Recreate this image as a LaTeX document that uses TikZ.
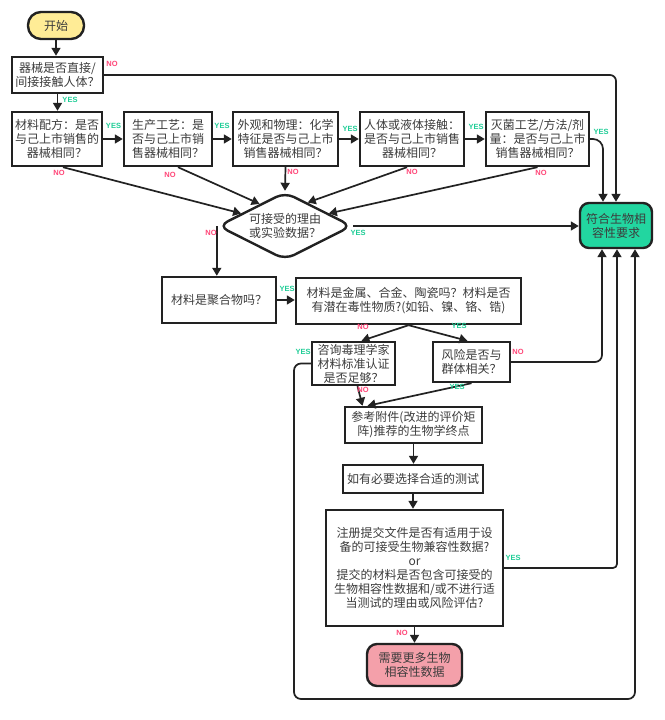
\documentclass[tikz,border=0pt]{standalone}
\usepackage{fontspec}
\setmainfont{Noto Sans CJK SC}
\newfontfamily\lblfont{Liberation Sans}
\usetikzlibrary{arrows.meta,shapes.geometric,calc}
\definecolor{startfill}{RGB}{255,236,150}
\definecolor{okfill}{RGB}{34,214,160}
\definecolor{pinkfill}{RGB}{244,160,170}
\definecolor{yesc}{RGB}{30,205,150}
\definecolor{noc}{RGB}{255,70,120}
\definecolor{boxc}{RGB}{34,34,34}
\definecolor{txt}{RGB}{60,60,60}
\tikzset{
  box/.style={draw=boxc, line width=2.4pt, fill=white, align=center, inner sep=0pt,
    font=\fontsize{12}{14}\selectfont, text=txt},
  arr/.style={-{Triangle[length=8pt,width=9pt]}, line width=1.7pt, draw=boxc},
  yeslbl/.style={text=yesc, font=\lblfont\bfseries\fontsize{7.5}{8}\selectfont, inner sep=0pt},
  nolbl/.style={text=noc, font=\lblfont\bfseries\fontsize{7.5}{8}\selectfont, inner sep=0pt},
}
\begin{document}
\begin{tikzpicture}[x=1pt,y=-1pt]
\fill[white] (0,0) rectangle (664,720);
\useasboundingbox (0,0) rectangle (664,720);

% nodes
\node[box, fill=startfill, rounded corners=13pt, minimum width=56pt, minimum height=27pt] (start) at (56,25.5) {开始};
\node[box, minimum width=91pt, minimum height=36pt] (b1) at (57.5,75) {器械是否直接/\\间接接触人体？};
\node[box, minimum width=90pt, minimum height=54pt] (b2) at (57,139) {材料配方：是否\\与己上市销售的\\器械相同？};
\node[box, minimum width=88pt, minimum height=54pt] (b3) at (168,139) {生产工艺：是\\否与己上市销\\售器械相同？};
\node[box, minimum width=105pt, minimum height=54pt] (b4) at (285.5,139) {外观和物理：化学\\特征是否与己上市\\销售器械相同？};
\node[box, minimum width=104pt, minimum height=54pt] (b5) at (412,139) {人体或液体接触：\\是否与己上市销售\\器械相同？};
\node[box, minimum width=103pt, minimum height=54pt] (b6) at (537.5,139) {灭菌工艺/方法/剂\\量：是否与己上市\\销售器械相同？};
\node[box, shape=diamond, aspect=2, rounded corners=10pt, minimum width=134pt, minimum height=68pt] (dia) at (285,226) {可接受的理由\\或实验数据？};
\node[box, fill=okfill, rounded corners=9pt, minimum width=72pt, minimum height=45pt] (ok) at (616,225.5) {符合生物相\\容性要求};
\node[box, minimum width=114pt, minimum height=46pt] (poly) at (219,300) {材料是聚合物吗？};
\node[box, minimum width=225pt, minimum height=46pt] (metal) at (408.5,301) {材料是金属、合金、陶瓷吗？材料是否\\有潜在毒性物质?(如铅、镍、铬、锆)};
\node[box, minimum width=83pt, minimum height=43pt] (tox) at (353.5,363.5) {咨询毒理学家\\材料标准认证\\是否足够？};
\node[box, minimum width=77pt, minimum height=40pt] (risk) at (471.5,362) {风险是否与\\群体相关？};
\node[box, minimum width=137pt, minimum height=36pt] (ref) at (413.5,425) {参考附件(改进的评价矩\\阵)推荐的生物学终点};
\node[box, minimum width=140pt, minimum height=28pt] (sel) at (413,479) {如有必要选择合适的测试};
\node[box, minimum width=177pt, minimum height=116pt] (big) at (414.5,568) {注册提交文件是否有适用于设\\备的可接受生物兼容性数据?\\or\\提交的材料是否包含可接受的\\生物相容性数据和/或不进行适\\当测试的理由或风险评估?};
\node[box, fill=pinkfill, rounded corners=10pt, minimum width=95pt, minimum height=42pt] (pink) at (414.5,665) {需要更多生物\\相容性数据};

\coordinate (lp1) at (294,699);

% connectors
\draw[arr] (start.south) -- (start.south |- b1.north);
\draw[arr] (b1.south) -- (b1.south |- b2.north);
\draw[arr, rounded corners=6pt] (b1.east) -| (ok.north);
\draw[arr] (b2.east) -- (b3.west);
\draw[arr] (b3.east) -- (b4.west);
\draw[arr] (b4.east) -- (b5.west);
\draw[arr] (b5.east) -- (b6.west);
\draw[arr, rounded corners=10pt] (b6.east) -| ([xshift=-13pt]ok.north);
\draw[arr] ([xshift=6pt]b2.south) -- (dia.164);
\draw[arr] ([xshift=10pt]b3.south) -- (dia.139);
\draw[arr] (b4.south) -- (dia.north);
\draw[arr] ([xshift=-5pt]b5.south) -- (dia.46);
\draw[arr] (b6.south) -- (dia.16);
\draw[arr] (dia.east) -- (dia.east -| ok.west);
\draw[arr] (dia.west) -- (dia.west |- poly.north);
\draw[arr] (poly.east) -- (poly.east -| metal.west);
\draw[arr] (metal.south) -- ([xshift=8pt]tox.north);
\draw[arr] (metal.south) -- ([xshift=-4pt]risk.north);
\draw[arr] ([xshift=4pt]tox.south) -- ([xshift=-51pt]ref.north);
\draw[arr] (risk.south) -- ([xshift=-46pt]ref.north);
\draw[arr, rounded corners=7pt] (tox.west) -| (lp1) -| ([xshift=19pt]ok.south);
\draw[arr, rounded corners=7pt] (risk.east) -| ([xshift=-14pt]ok.south);
\draw[arr] (ref.south) -- (ref.south |- sel.north);
\draw[arr] (sel.south) -- (sel.south |- big.north);
\draw[arr, rounded corners=4pt] (big.east) -| ([xshift=1pt]ok.south);
\draw[arr] (big.south) -- (pink.north);

% labels
\node[nolbl] (l1) at (112,64) {NO};
\node[yeslbl] (l2) at (70,100) {YES};
\node[yeslbl] (l3) at (113.5,126) {YES};
\node[yeslbl] (l4) at (222,126) {YES};
\node[yeslbl] (l5) at (350,129) {YES};
\node[yeslbl] (l6) at (476,127) {YES};
\node[yeslbl] (l7) at (601,132) {YES};
\node[nolbl] (l8) at (59,173) {NO};
\node[nolbl] (l9) at (170,175) {NO};
\node[nolbl] (l10) at (293,172) {NO};
\node[nolbl] (l11) at (412,172) {NO};
\node[nolbl] (l12) at (541,173) {NO};
\node[yeslbl] (l13) at (358,233) {YES};
\node[nolbl] (l14) at (211,233) {NO};
\node[yeslbl] (l15) at (287,289) {YES};
\node[nolbl] (l16) at (363,327) {NO};
\node[yeslbl] (l17) at (459,326) {YES};
\node[yeslbl] (l18) at (303,352) {YES};
\node[nolbl] (l19) at (518,352) {NO};
\node[nolbl] (l20) at (363,390) {NO};
\node[yeslbl] (l21) at (457,387) {YES};
\node[yeslbl] (l22) at (513,558) {YES};
\node[nolbl] (l23) at (402,633) {NO};
\end{tikzpicture}
\end{document}
